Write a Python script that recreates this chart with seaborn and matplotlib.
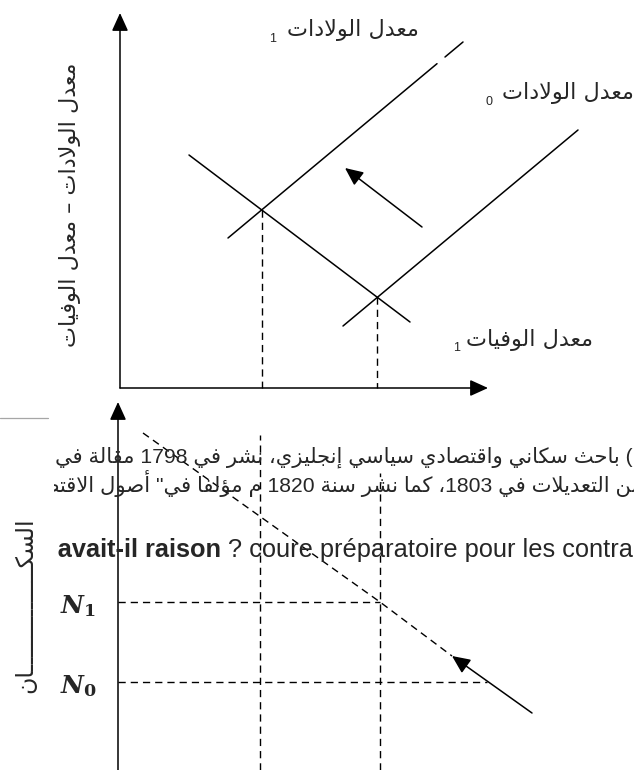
import re
import numpy as np
import matplotlib
matplotlib.use("Agg")
import matplotlib.pyplot as plt
import seaborn as sns
from matplotlib.transforms import Bbox

# ---------------------------------------------------------------------------
# Diagram data (units = pixels measured from each diagram's origin)
# ---------------------------------------------------------------------------
# upper diagram: birth-rate schedules before (0) and after (1) the shift,
# and the death-rate schedule
birth1_x = [108, 343]
birth1_y = [150, 346]
birth0_x = [223, 458]
birth0_y = [62, 258]
death1_x = [69, 290]
death1_y = [233, 66]
birth1_gap = [317, 325]            # short break in the upper birth line
shift_arrow_top = [(302, 161), (225, 220)]
top_axis_len = [368, 375]          # x-axis, y-axis

# lower diagram: population levels
pop_labels = ["N_1", "N_0"]
pop_levels = [168, 88]
pop_level_ends = [262, 369]
path_x = [25, 262, 334]
path_y = [337, 168, 114]
guide_x = [142, 262]
guide_top = [335, 297]
shift_arrow_bot = [(414, 57), (334, 114)]
bot_axis_len = 368

# texts
lbl_birth = "معدل الولادات"
lbl_death = "معدل الوفيات"
lbl_yaxis = "معدل الولادات – معدل الوفيات"
lbl_pop = "السكـــــــــــــــان"
note_line1 = "(1766-1834) باحث سكاني واقتصادي سياسي إنجليزي، نشر في 1798 مقالة في"
note_line2 = 'من التعديلات في 1803، كما نشر سنة 1820 م مؤلفا في" أصول الاقتصاد'
fr_bold = "Malthus avait-il raison"
fr_rest = " ? coure préparatoire pour les contraintes"

# ---------------------------------------------------------------------------
# Arabic contextual shaping + visual ordering (matplotlib draws glyphs LTR)
# ---------------------------------------------------------------------------
_DUAL = {0x0626: 0xFE89, 0x0628: 0xFE8F, 0x062A: 0xFE95, 0x062B: 0xFE99,
         0x062C: 0xFE9D, 0x062D: 0xFEA1, 0x062E: 0xFEA5, 0x0633: 0xFEB1,
         0x0634: 0xFEB5, 0x0635: 0xFEB9, 0x0636: 0xFEBD, 0x0637: 0xFEC1,
         0x0638: 0xFEC5, 0x0639: 0xFEC9, 0x063A: 0xFECD, 0x0641: 0xFED1,
         0x0642: 0xFED5, 0x0643: 0xFED9, 0x0644: 0xFEDD, 0x0645: 0xFEE1,
         0x0646: 0xFEE5, 0x0647: 0xFEE9, 0x064A: 0xFEF1}
_RIGHT = {0x0622: 0xFE81, 0x0623: 0xFE83, 0x0624: 0xFE85, 0x0625: 0xFE87,
          0x0627: 0xFE8D, 0x0629: 0xFE93, 0x062F: 0xFEA9, 0x0630: 0xFEAB,
          0x0631: 0xFEAD, 0x0632: 0xFEAF, 0x0648: 0xFEED, 0x0649: 0xFEEF}
_LAMALEF = {0x0622: 0xFEF5, 0x0623: 0xFEF7, 0x0625: 0xFEF9, 0x0627: 0xFEFB}
_TATWEEL = 0x0640
_MIRROR = {"(": ")", ")": "("}


def shape(s):
    units, i = [], 0
    while i < len(s):
        c = ord(s[i])
        if c == 0x0644 and i + 1 < len(s) and ord(s[i + 1]) in _LAMALEF:
            units.append(("R", _LAMALEF[ord(s[i + 1])]))
            i += 2
            continue
        if c in _DUAL:
            units.append(("D", _DUAL[c]))
        elif c in _RIGHT:
            units.append(("R", _RIGHT[c]))
        elif c == _TATWEEL:
            units.append(("T", c))
        else:
            units.append(("X", c))
        i += 1
    out = []
    for k, (kind, base) in enumerate(units):
        if kind in ("X", "T"):
            out.append(chr(base))
            continue
        prev = units[k - 1][0] if k > 0 else "X"
        nxt = units[k + 1][0] if k + 1 < len(units) else "X"
        jp = prev in ("D", "T")
        jn = kind == "D" and nxt in ("D", "R", "T")
        if kind == "D":
            off = 3 if (jp and jn) else 1 if jp else 2 if jn else 0
        else:
            off = 1 if jp else 0
        out.append(chr(base + off))
    return "".join(out)


def visual(s):
    runs = re.findall(r"[0-9A-Za-z][0-9A-Za-z\-\.]*|.", shape(s))
    runs.reverse()
    return "".join(r if re.match(r"[0-9A-Za-z]", r) else _MIRROR.get(r, r)
                   for r in runs)


# ---------------------------------------------------------------------------
# Figure
# ---------------------------------------------------------------------------
sns.set_theme(style="white")
plt.rcParams["font.family"] = ["Liberation Sans", "DejaVu Sans"]
plt.rcParams["mathtext.fontset"] = "custom"
plt.rcParams["mathtext.it"] = "DejaVu Serif:italic:bold"
plt.rcParams["mathtext.rm"] = "DejaVu Serif:bold"
plt.rcParams["mathtext.bf"] = "DejaVu Serif:bold"

W, H = 634, 770
fig = plt.figure(figsize=(W / 100, H / 100), dpi=100)
fig.patch.set_facecolor("white")


def panel(x0, y0, w, h):
    a = fig.add_axes([x0 / W, (H - y0) / H, w / W, h / H])
    a.set_xlim(0, w)
    a.set_ylim(0, h)
    a.axis("off")
    a.patch.set_alpha(0)
    return a


ax_top = panel(120, 388, 514, 388)
ax_bot = panel(118, 770, 516, 400)
ax_txt = fig.add_axes([0, 0, 1, 1])
ax_txt.set_xlim(0, W)
ax_txt.set_ylim(H, 0)
ax_txt.axis("off")
ax_txt.patch.set_alpha(0)

SOLID = dict(color="black", lw=1.1, estimator=None, sort=False,
             clip_on=False, legend=False)
DASH = dict(SOLID, lw=1.0, linestyle=(0, (5.2, 3.6)))
ARROW = dict(arrowstyle="-|>,head_length=0.55,head_width=0.25",
             mutation_scale=20, lw=1.1, color="black",
             shrinkA=0, shrinkB=0)


def arrow(a, p0, p1):
    a.annotate("", xy=p1, xytext=p0, arrowprops=ARROW, annotation_clip=False)


def fit(xs, ys):
    return np.polyfit(xs, ys, 1)


def cross(l1, l2):
    (k1, c1), (k2, c2) = l1, l2
    x = (c2 - c1) / (k1 - k2)
    return x, k1 * x + c1


# ---- upper diagram ----
arrow(ax_top, (0, 0), (top_axis_len[0], 0))
arrow(ax_top, (0, 0), (0, top_axis_len[1]))

b1 = fit(birth1_x, birth1_y)
b0 = fit(birth0_x, birth0_y)
d1 = fit(death1_x, death1_y)
seg_a = [birth1_x[0], birth1_gap[0]]
seg_b = [birth1_gap[1], birth1_x[1]]
sns.lineplot(x=seg_a, y=np.polyval(b1, seg_a), ax=ax_top, **SOLID)
sns.lineplot(x=seg_b, y=np.polyval(b1, seg_b), ax=ax_top, **SOLID)
sns.lineplot(x=birth0_x, y=birth0_y, ax=ax_top, **SOLID)
sns.lineplot(x=death1_x, y=death1_y, ax=ax_top, **SOLID)
for line in (b1, b0):
    xi, yi = cross(line, d1)
    sns.lineplot(x=[xi, xi], y=[yi, 0], ax=ax_top, **DASH)
arrow(ax_top, *shift_arrow_top)

# ---- lower diagram ----
arrow(ax_bot, (0, 0), (0, bot_axis_len))
for gx, gt in zip(guide_x, guide_top):
    sns.lineplot(x=[gx, gx], y=[0, gt], ax=ax_bot, **DASH)
for lvl, end in zip(pop_levels, pop_level_ends):
    sns.lineplot(x=[0, end], y=[lvl, lvl], ax=ax_bot, **DASH)
sns.lineplot(x=path_x, y=path_y, ax=ax_bot, **DASH)
arrow(ax_bot, *shift_arrow_bot)

# ---- labels ----
AR = ["DejaVu Sans"]
ax_txt.text(419, 30, visual(lbl_birth), fontsize=16, ha="right", va="center",
            family=AR)
ax_txt.text(273, 39, "1", fontsize=9, ha="center", va="center")
ax_txt.text(634, 93, visual(lbl_birth), fontsize=16, ha="right", va="center",
            family=AR)
ax_txt.text(489, 102, "0", fontsize=9, ha="center", va="center")
ax_txt.text(593, 340, visual(lbl_death), fontsize=16, ha="right", va="center",
            family=AR)
ax_txt.text(457, 348, "1", fontsize=9, ha="center", va="center")
ax_txt.text(70, 205, visual(lbl_yaxis), fontsize=16, rotation=90,
            ha="center", va="center", family=AR)

for name, lvl in zip(pop_labels, pop_levels):
    ax_txt.text(78, 770 - lvl + 4, f"${name}$", fontsize=18,
                ha="center", va="center")
ax_txt.text(25, 605, visual(lbl_pop), fontsize=17, rotation=90,
            ha="center", va="center", family=AR)

ax_txt.plot([0, 48], [418, 418], color="#a6a6a6", lw=0.9)

clip = Bbox.from_extents(54, 0, W, H)
t1 = ax_txt.text(55, 463, visual(note_line1), fontsize=15.2, ha="left",
                 va="baseline")
t2 = ax_txt.text(643, 492, visual(note_line2), fontsize=15.2, ha="right",
                 va="baseline")
t3 = ax_txt.text(221, 557, fr_bold, fontsize=18.3, fontweight="bold",
                 ha="right", va="baseline")
t4 = ax_txt.text(221, 557, fr_rest, fontsize=18.3, ha="left", va="baseline")
for t in (t1, t2, t3, t4):
    t.set_clip_box(clip)
    t.set_clip_on(True)

fig.savefig("out.png", dpi=100, facecolor="white")
